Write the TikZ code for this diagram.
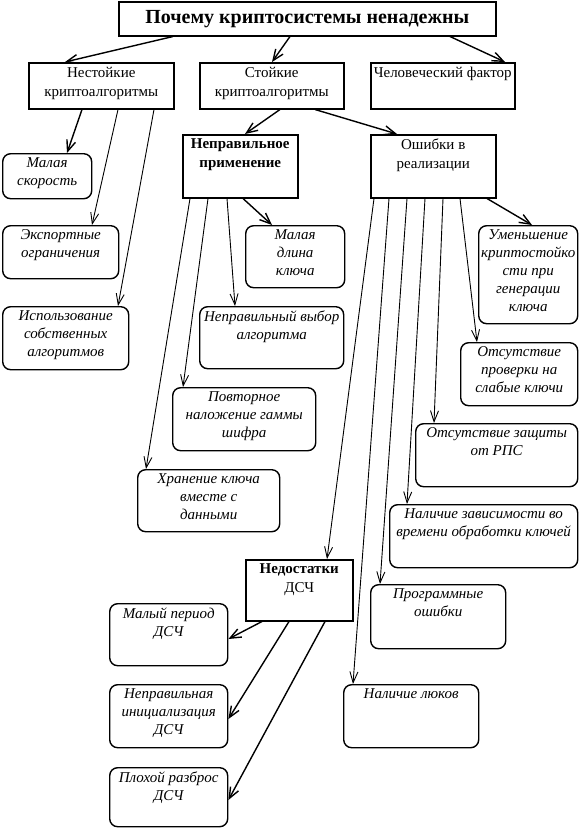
\documentclass[tikz,border=0pt]{standalone}
\usepackage{fontspec}
\setmainfont{Liberation Serif}
\usetikzlibrary{arrows.meta}
\newcommand\mybox[7]{%
  \node[#1, anchor=north west, inner sep=0pt, minimum width={#5-#3}, minimum height={#6-#4}] (#2) at (#3,#4)
  {\parbox[t][\dimexpr #6pt-#4pt-8pt\relax][t]{\dimexpr #5pt-#3pt-4pt\relax}{\centering #7}};}
\tikzset{
  hbox/.style={draw, line width=1.5pt, font=\fontsize{15}{19}\selectfont},
  rbox/.style={draw, line width=1.4pt, rounded corners=8pt, font=\itshape\fontsize{15}{18}\selectfont},
  arr/.style={-{Straight Barb[length=11pt,width=9pt]}, line width=1.4pt},
  arrthin/.style={-{Straight Barb[length=11pt,width=8pt]}, line width=0.9pt},
}
\begin{document}
\begin{tikzpicture}[x=1pt,y=-1pt]
\useasboundingbox (0,0) rectangle (584,828);
% heading boxes
\node[draw, line width=1.5pt, anchor=north west, minimum width=377pt, minimum height=34pt, inner sep=0pt,
  font=\bfseries\fontsize{20}{24}\selectfont] (title) at (118,1) {Почему криптосистемы ненадежны};
\mybox{hbox}{nest}{28}{62}{173}{108}{Нестойкие\\криптоалгоритмы}
\mybox{hbox}{stoy}{199}{62}{343}{108}{Стойкие\\криптоалгоритмы}
\mybox{hbox}{chel}{370}{62}{514}{108}{Человеческий фактор}
\mybox{hbox}{nepr}{182}{134}{297}{197}{\bfseries Неправильное\\применение}
\mybox{hbox}{osh}{370}{134}{495}{197}{Ошибки в\\реализации}
\mybox{hbox}{ndsch}{245}{559}{352}{620}{{\bfseries Недостатки}\\ДСЧ}
% rounded boxes
\mybox{rbox}{msk}{2}{153}{91}{198}{Малая\\скорость}
\mybox{rbox}{exp}{2}{225}{118}{278}{Экспортные\\ограничения}
\mybox{rbox}{isp}{2}{306}{128}{369}{Использование\\собственных\\алгоритмов}
\mybox{rbox}{mdl}{245}{225}{344}{287}{Малая\\длина\\ключа}
\mybox{rbox}{nvy}{199}{306}{343}{368}{Неправильный выбор\\алгоритма}
\mybox{rbox}{pov}{172}{387}{315}{450}{Повторное\\наложение гаммы\\шифра}
\mybox{rbox}{hran}{137}{469}{279}{531}{Хранение ключа\\вместе с\\данными}
\mybox{rbox}{umen}{478}{225}{577}{323}{Уменьшение\\криптостойко\\сти при\\генерации\\ключа}
\mybox{rbox}{otpr}{460}{342}{577}{405}{Отсутствие\\проверки на\\слабые ключи}
\mybox{rbox}{otz}{415}{423}{577}{486}{Отсутствие защиты\\от РПС}
\mybox{rbox}{nal}{389}{504}{577}{567}{Наличие зависимости во\\времени обработки ключей}
\mybox{rbox}{prog}{370}{584}{505}{648}{Программные\\ошибки}
\mybox{rbox}{lyuk}{343}{684}{478}{747}{Наличие люков}
\mybox{rbox}{mper}{109}{603}{227}{665}{Малый период\\ДСЧ}
\mybox{rbox}{ninit}{109}{684}{227}{747}{Неправильная\\инициализация\\ДСЧ}
\mybox{rbox}{plox}{109}{767}{227}{826}{Плохой разброс\\ДСЧ}
% connectors
\draw[arr] ([xshift=55]title.south west) -- ([xshift=37]nest.north west);
\draw[arr] ([xshift=172]title.south west) -- ([xshift=73]stoy.north west);
\draw[arr] ([xshift=332]title.south west) -- ([xshift=135]chel.north west);
\draw[arr] ([xshift=54]nest.south west) -- ([xshift=65]msk.north west);
\draw[arrthin] ([xshift=90]nest.south west) -- ([xshift=90]exp.north west);
\draw[arrthin] ([xshift=126]nest.south west) -- ([xshift=116]isp.north west);
\draw[arr] ([xshift=81]stoy.south west) -- ([xshift=63]nepr.north west);
\draw[arr] ([xshift=116]stoy.south west) -- ([xshift=27]osh.north west);
\draw[arrthin] ([xshift=8]nepr.south west) -- ([xshift=9]hran.north west);
\draw[arrthin] ([xshift=26]nepr.south west) -- ([xshift=11]pov.north west);
\draw[arrthin] ([xshift=45]nepr.south west) -- ([xshift=36]nvy.north west);
\draw[arr] ([xshift=61]nepr.south west) -- ([xshift=27]mdl.north west);
\draw[arrthin] ([xshift=4]osh.south west) -- ([xshift=82]ndsch.north west);
\draw[arrthin] ([xshift=19]osh.south west) -- ([xshift=10]lyuk.north west);
\draw[arrthin] ([xshift=37]osh.south west) -- ([xshift=10]prog.north west);
\draw[arrthin] ([xshift=55]osh.south west) -- ([xshift=18]nal.north west);
\draw[arrthin] ([xshift=73]osh.south west) -- ([xshift=19]otz.north west);
\draw[arrthin] ([xshift=90]osh.south west) -- ([xshift=17]otpr.north west);
\draw[arr] ([xshift=117]osh.south west) -- ([xshift=54]umen.north west);
\draw[arr] ([xshift=17]ndsch.south west) -- ([yshift=-36]mper.north east);
\draw[arr] ([xshift=44]ndsch.south west) -- ([yshift=-35]ninit.north east);
\draw[arr] ([xshift=80]ndsch.south west) -- ([yshift=-33]plox.north east);
\end{tikzpicture}
\end{document}
